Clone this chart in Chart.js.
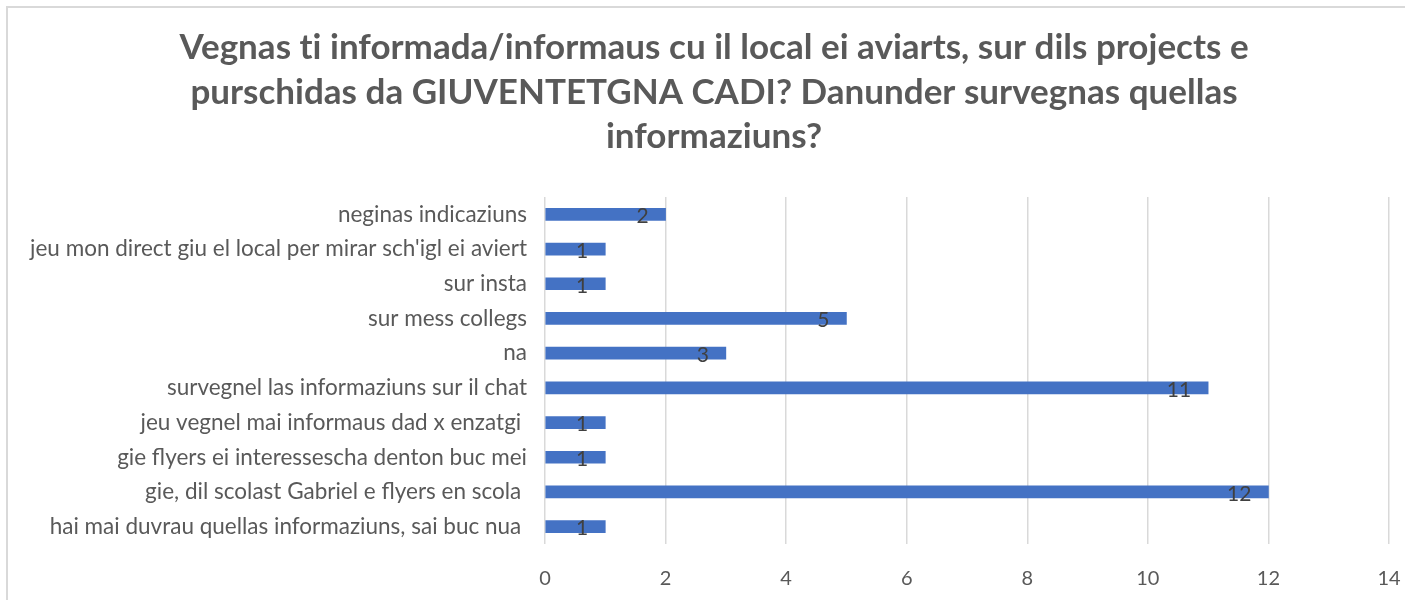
<!DOCTYPE html>
<html>
<head>
<meta charset="utf-8">
<script src="https://cdn.jsdelivr.net/npm/chart.js@4"></script>
<style>
  body { margin: 0; background: #fff; }
  #wrap { width: 1405px; height: 600px; }
</style>
</head>
<body>
<div id="wrap"><canvas id="myChart" width="1405" height="600"></canvas></div>
<script>
// data, top to bottom as in the picture
const titleLines = [
    'Vegnas ti informada/informaus cu il local ei aviarts, sur dils projects e',
    'purschidas da GIUVENTETGNA CADI? Danunder survegnas quellas',
    'informaziuns?'
]
const categories = [
    'neginas indicaziuns',
    "jeu mon direct giu el local per mirar sch'igl ei aviert",
    'sur insta',
    'sur mess collegs',
    'na',
    'survegnel las informaziuns sur il chat',
    'jeu vegnel mai informaus dad x enzatgi ',
    'gie flyers ei interessescha denton buc mei',
    'gie, dil scolast Gabriel e flyers en scola ',
    'hai mai duvrau quellas informaziuns, sai buc nua '
]
const counts = [2, 1, 1, 5, 3, 11, 1, 1, 12, 1]
const xTicks = [0, 2, 4, 6, 8, 10, 12, 14]

const fontName = 'Lato, "Open Sans", sans-serif'

// white background + light frame like the office chart box
const frame = {
    id: 'frame',
    beforeDraw(chart) {
        const ctx = chart.ctx
        ctx.save()
        ctx.fillStyle = '#fff'
        ctx.fillRect(0, 0, chart.width, chart.height)
        ctx.strokeStyle = '#d9d9d9'
        ctx.lineWidth = 2
        ctx.strokeRect(7, 7, chart.width + 20, chart.height + 20)
        ctx.restore()
    }
}

// title drawn by hand so it is centred on the chart box, not the canvas
const bigTitle = {
    id: 'bigTitle',
    afterDraw(chart) {
        const ctx = chart.ctx
        ctx.save()
        ctx.font = 'bold 35px ' + fontName
        ctx.fillStyle = '#595959'
        ctx.textAlign = 'center'
        ctx.textBaseline = 'middle'
        if ('letterSpacing' in ctx) ctx.letterSpacing = '0.01px' // no "ti" ligature
        titleLines.forEach((line, i) => {
            ctx.fillText(line, 714, 48 + i * 44.5)
        })
        ctx.restore()
    }
}

// value labels just inside the bar end
const valueLabels = {
    id: 'valueLabels',
    afterDatasetsDraw(chart) {
        const ctx = chart.ctx
        const meta = chart.getDatasetMeta(0)
        ctx.save()
        ctx.font = '21px ' + fontName
        ctx.fillStyle = '#404040'
        ctx.textAlign = 'right'
        ctx.textBaseline = 'middle'
        meta.data.forEach((bar, i) => {
            ctx.fillText(String(counts[i]), bar.x - 17, bar.y + 2)
        })
        ctx.restore()
    }
}

const ctx = document.getElementById('myChart').getContext('2d')
const myChart = new Chart(ctx, {
    type: 'bar',
    data: {
        labels: categories,
        datasets: [{
            data: counts,
            backgroundColor: '#4472C4',
            barThickness: 12
        }]
    },
    options: {
        indexAxis: 'y',
        responsive: false,
        animation: false,
        layout: { padding: { top: 197, left: 22, right: 16, bottom: 0 } },
        plugins: {
            legend: { display: false },
            tooltip: { enabled: false },
            title: { display: false }
        },
        scales: {
            x: {
                min: 0,
                max: 14,
                afterBuildTicks(scale) {
                    scale.ticks = xTicks.map(v => ({ value: v }))
                },
                afterFit(scale) {
                    scale.height = 56
                    scale.paddingRight = 0
                },
                grid: { color: '#d9d9d9', lineWidth: 1.5, drawTicks: false },
                border: { display: false },
                ticks: {
                    color: '#595959',
                    font: { family: fontName, size: 20 },
                    padding: 23
                }
            },
            y: {
                afterFit(scale) { scale.width = 545 - 22 },
                grid: { display: false },
                border: { display: false },
                ticks: {
                    color: '#595959',
                    font: { family: fontName, size: 22.5 },
                    padding: 10,
                    autoSkip: false
                }
            }
        }
    },
    plugins: [frame, bigTitle, valueLabels]
})
</script>
</body>
</html>
